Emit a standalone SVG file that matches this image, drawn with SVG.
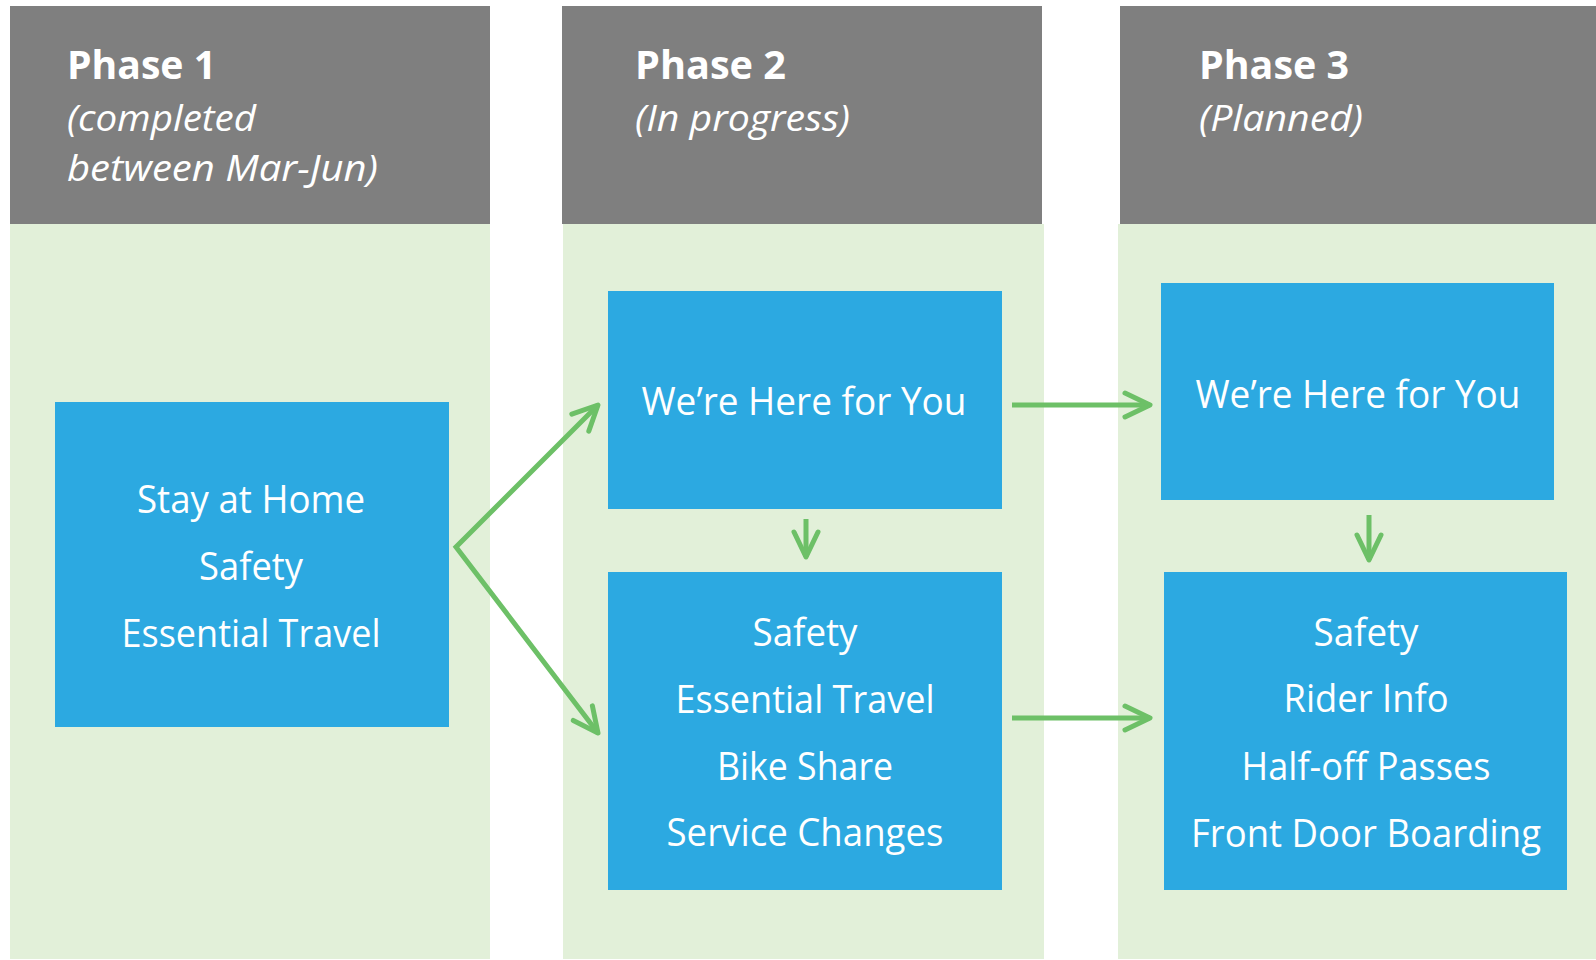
<svg xmlns="http://www.w3.org/2000/svg" width="1596" height="960" viewBox="0 0 1596 960">
  <style>
    .hdr { fill: #7F7F7F; }
    .lane { fill: #E2F0D9; }
    .box { fill: #2CA9E1; }
    .title { font-family: "Open Sans", "Noto Sans", "Liberation Sans", sans-serif; font-weight: bold; font-size: 40px; fill: #FFFFFF; }
    .sub { font-family: "Open Sans", "Noto Sans", "Liberation Sans", sans-serif; font-style: italic; font-size: 36px; fill: #FFFFFF; }
    .lbl { font-family: "Open Sans", "Noto Sans", "Liberation Sans", sans-serif; font-size: 38.5px; fill: #FFFFFF; text-anchor: middle; }
    .conn { fill: none; stroke: #6DC067; stroke-width: 5; stroke-linejoin: miter; }
  </style>
  <defs>
    <marker id="ah" viewBox="-30 -20 40 40" markerWidth="40" markerHeight="40" refX="0" refY="0" orient="auto-start-reverse" markerUnits="userSpaceOnUse">
      <path d="M-25,-12 L0,0 L-25,12" fill="none" stroke="#6DC067" stroke-width="5" stroke-linecap="round" stroke-linejoin="round"/>
    </marker>
  </defs>
  <rect width="1596" height="960" fill="#FFFFFF"/>

  <g id="phase1">
    <rect class="lane" x="10" y="224" width="480" height="735"/>
    <rect class="hdr" x="10" y="6" width="480" height="218"/>
    <text class="title" x="67" y="79" textLength="149" lengthAdjust="spacingAndGlyphs">Phase 1</text>
    <text class="sub" x="67" y="131" textLength="189" lengthAdjust="spacingAndGlyphs">(completed</text>
    <text class="sub" x="67" y="181" textLength="311" lengthAdjust="spacingAndGlyphs">between Mar-Jun)</text>
  </g>

  <g id="phase2">
    <rect class="lane" x="563" y="224" width="481" height="735"/>
    <rect class="hdr" x="562" y="6" width="480" height="218"/>
    <text class="title" x="635" y="79" textLength="151" lengthAdjust="spacingAndGlyphs">Phase 2</text>
    <text class="sub" x="635" y="131" textLength="215" lengthAdjust="spacingAndGlyphs">(In progress)</text>
  </g>

  <g id="phase3">
    <rect class="lane" x="1118" y="224" width="478" height="735"/>
    <rect class="hdr" x="1120" y="6" width="476" height="218"/>
    <text class="title" x="1199" y="79" textLength="150" lengthAdjust="spacingAndGlyphs">Phase 3</text>
    <text class="sub" x="1199" y="131" textLength="164" lengthAdjust="spacingAndGlyphs">(Planned)</text>
  </g>

  <g id="stay-at-home">
    <rect class="box" x="55" y="402" width="394" height="325"/>
    <text class="lbl" x="251" y="513" textLength="228" lengthAdjust="spacingAndGlyphs">Stay at Home</text>
    <text class="lbl" x="251" y="580" textLength="104" lengthAdjust="spacingAndGlyphs">Safety</text>
    <text class="lbl" x="251" y="646.5" textLength="259" lengthAdjust="spacingAndGlyphs">Essential Travel</text>
  </g>

  <g id="p2-here-for-you">
    <rect class="box" x="608" y="291" width="394" height="218"/>
    <text class="lbl" x="804" y="415" textLength="325" lengthAdjust="spacingAndGlyphs">We&#8217;re Here for You</text>
  </g>

  <g id="p2-list">
    <rect class="box" x="608" y="572" width="394" height="318"/>
    <text class="lbl" x="805" y="645.5" textLength="105" lengthAdjust="spacingAndGlyphs">Safety</text>
    <text class="lbl" x="805" y="712.5" textLength="259" lengthAdjust="spacingAndGlyphs">Essential Travel</text>
    <text class="lbl" x="805" y="779.5" textLength="176" lengthAdjust="spacingAndGlyphs">Bike Share</text>
    <text class="lbl" x="805" y="846" textLength="277" lengthAdjust="spacingAndGlyphs">Service Changes</text>
  </g>

  <g id="p3-here-for-you">
    <rect class="box" x="1161" y="283" width="393" height="217"/>
    <text class="lbl" x="1358" y="407.5" textLength="325" lengthAdjust="spacingAndGlyphs">We&#8217;re Here for You</text>
  </g>

  <g id="p3-list">
    <rect class="box" x="1164" y="572" width="403" height="318"/>
    <text class="lbl" x="1366" y="645.5" textLength="105" lengthAdjust="spacingAndGlyphs">Safety</text>
    <text class="lbl" x="1366" y="712" textLength="165" lengthAdjust="spacingAndGlyphs">Rider Info</text>
    <text class="lbl" x="1366" y="779.5" textLength="249" lengthAdjust="spacingAndGlyphs">Half-off Passes</text>
    <text class="lbl" x="1366" y="846.5" textLength="350" lengthAdjust="spacingAndGlyphs">Front Door Boarding</text>
  </g>

  <g id="connectors">
    <path class="conn" d="M598,405 L456,547 L598,733" marker-start="url(#ah)" marker-end="url(#ah)"/>
    <path class="conn" d="M1012,405 L1150,405" marker-end="url(#ah)"/>
    <path class="conn" d="M1012,718 L1150,718" marker-end="url(#ah)"/>
    <path class="conn" d="M806,519 L806,557" marker-end="url(#ah)"/>
    <path class="conn" d="M1369,515 L1369,560" marker-end="url(#ah)"/>
  </g>
</svg>
